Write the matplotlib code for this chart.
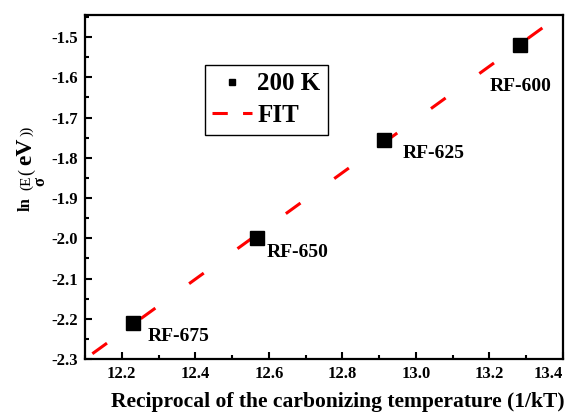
import numpy as np
import matplotlib
matplotlib.use('Agg')
import matplotlib.pyplot as plt
from matplotlib.lines import Line2D
from matplotlib.ticker import MultipleLocator, FormatStrFormatter

# Datos
# ---------------------------------------------
samples = ['RF-675', 'RF-650', 'RF-625', 'RF-600']
inv_kT = [12.231, 12.567, 12.913, 13.282]
ln_E = [-2.21, -2.0, -1.755, -1.52]
fit_range = [12.12, 13.4]
label_offsets = [(14, -14), (10, -14), (19, -14), (-30, -41)]  # en píxeles

plt.rcParams['font.family'] = ['Liberation Serif', 'DejaVu Serif']
plt.rcParams['font.weight'] = 'bold'
plt.rcParams['axes.unicode_minus'] = False
plt.rcParams['lines.scale_dashes'] = False

fig = plt.figure(figsize=(5.76, 4.15), dpi=100)
ax = fig.add_axes([85 / 576, 1 - 359 / 415, 478 / 576, 344 / 415])

# Ajuste lineal
slope, intercept = np.polyfit(inv_kT, ln_E, 1)
xf = np.array(fit_range)
ax.plot(xf, slope * xf + intercept, color='red', lw=2.2,
        dashes=(13, 30), dash_capstyle='butt', zorder=2)

ax.plot(inv_kT, ln_E, 's', color='black', ms=10.5, zorder=3)

for name, x, y, (dx, dy) in zip(samples, inv_kT, ln_E, label_offsets):
    ax.annotate(name, (x, y), xytext=(dx * 0.72, dy * 0.72), textcoords='offset points',
                fontsize=14, fontweight='bold', va='center', ha='left')

ax.set_xlim(12.1, 13.4)
ax.set_ylim(-2.3, -1.445)
ax.xaxis.set_major_locator(MultipleLocator(0.2))
ax.xaxis.set_minor_locator(MultipleLocator(0.1))
ax.yaxis.set_major_locator(MultipleLocator(0.1))
ax.yaxis.set_minor_locator(MultipleLocator(0.05))
ax.xaxis.set_major_formatter(FormatStrFormatter('%.1f'))
ax.yaxis.set_major_formatter(FormatStrFormatter('%.1f'))
ax.tick_params(which='both', direction='in', width=1.5, labelsize=12, pad=5)
ax.tick_params(which='major', length=5)
ax.tick_params(which='minor', length=3)
for s in ax.spines.values():
    s.set_linewidth(1.6)

# la última etiqueta del eje x queda dentro de la figura
fig.canvas.draw()
for lab in ax.get_xticklabels():
    if lab.get_text() == '13.4':
        lab.set_horizontalalignment('right')

ax.set_xlabel('Reciprocal of the carbonizing temperature (1/kT)', fontsize=15.5,
              fontweight='bold')
ax.xaxis.set_label_coords(0.529, -0.097)

# Etiqueta del eje y por partes (tamaños mezclados), posición inferior en píxeles
yl = [('ln', 12, 'bold', 26, 211), ('(E', 11, 'normal', 26.5, 190),
      ('σ', 12, 'bold', 40, 186), ('(', 13, 'normal', 27, 175),
      ('eV', 17, 'bold', 26, 165), ('))', 11, 'normal', 27, 136)]
for txt, fs, fw, px, py in yl:
    fig.text(px / 576, 1 - py / 415, txt, fontsize=fs, fontweight=fw,
             rotation=90, ha='center', va='bottom')

handles = [Line2D([], [], ls='none', marker='s', color='black', ms=5),
           Line2D([], [], color='red', lw=2.2, dashes=(11, 11), dash_capstyle='butt')]
leg = ax.legend(handles, ['200 K', 'FIT'], loc='upper left',
                bbox_to_anchor=(0.251, 0.855), borderaxespad=0,
                prop={'size': 18, 'weight': 'bold'}, handlelength=1.6,
                handletextpad=0.2, labelspacing=0.35, borderpad=0.3,
                fancybox=False, framealpha=1)
leg.get_frame().set_edgecolor('black')
leg.get_frame().set_linewidth(1.0)

fig.savefig('out.png', dpi=100)
